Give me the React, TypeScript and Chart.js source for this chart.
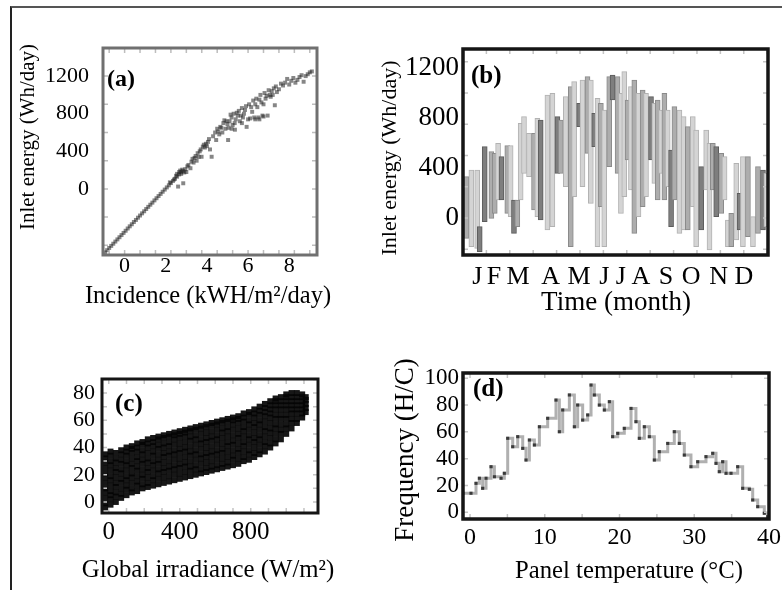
import React, { useEffect, useRef } from 'react';
import { Chart, registerables } from 'chart.js';

Chart.register(...registerables);

// ---------- (a) Inlet energy vs incidence ----------
const incidenceA = [
  -0.95, -0.85, -0.75, -0.65, -0.55, -0.45, -0.35, -0.25, -0.15, -0.05,
  0.05, 0.15, 0.25, 0.35, 0.45, 0.55, 0.65, 0.75, 0.85, 0.95,
  1.05, 1.15, 1.25, 1.35, 1.45, 1.55, 1.65, 1.75, 1.85, 1.95,
  2.05, 2.15, 2.25, 2.35, 2.45, 2.55, 2.65, 2.75,
  2.2, 2.4, 2.5, 2.55, 2.6, 2.65, 2.7, 2.75, 2.8, 2.85, 2.85, 2.9, 2.95, 3.0, 3.05, 3.1, 3.2, 3.25, 3.3, 3.35,
  3.4, 3.45, 3.5, 3.55, 3.6, 3.65, 3.7, 3.74, 3.8, 3.85, 3.9, 3.95, 4.0, 4.05, 4.1, 4.15, 4.23, 4.3, 4.4, 4.45,
  4.5, 5.03,
  4.6, 4.7, 4.8, 4.85, 4.9, 5.0, 5.1, 5.2, 5.25, 5.3, 5.36, 5.4, 5.5, 5.55, 5.6, 5.7, 5.75, 5.8, 5.9, 5.93,
  6.0, 6.05, 6.1, 6.2, 6.25, 6.3, 6.4, 6.45, 6.5, 6.6, 6.65, 6.7, 6.8, 6.85, 6.95, 7.0, 7.1, 7.2, 7.3, 7.35,
  7.5, 7.7, 7.9, 8.1, 8.3, 8.5, 8.7, 8.9, 9.1,
  4.55, 4.65, 4.75, 4.95, 5.05, 5.15, 5.35, 5.45, 5.65, 5.85, 6.15, 6.35, 6.55, 6.75, 6.9, 7.05,
  7.15, 7.25, 7.4, 7.6, 7.8, 8.0, 8.2, 8.4, 8.6, 8.8, 9.0, 6.35, 6.55, 6.75, 5.7, 5.2,
];
const energyA = [
  -675, -652, -628, -606, -583, -560, -537, -514, -491, -468,
  -445, -421, -398, -376, -352, -330, -306, -283, -260, -238,
  -214, -191, -168, -146, -122, -99, -76, -53, -30, -7,
  16, 38, 62, 85, 108, 130, 154, 177,
  70, 100, 140, 160, 25, 180, 195, 160, 205, 60, 190, 175, 210, 180, 240, 255, 220, 290, 320, 280,
  330, 350, 300, 380, 340, 400, 420, 342, 450, 470, 440, 480, 455, 500, 530, 420, 342, 560, 600, 520,
  640, 520,
  580, 650, 700, 730, 640, 690, 720, 760, 680, 800, 630, 740, 780, 830, 720, 860, 760, 800, 880, 660,
  740, 900, 750, 820, 940, 760, 960, 870, 760, 1000, 920, 780, 1020, 960, 780, 1050, 980, 1000, 890, 1090,
  1060, 1100, 1170, 1150, 1130, 1190, 1140, 1220, 1250,
  610, 660, 600, 720, 650, 790, 700, 810, 780, 840, 870, 900, 950, 900, 990, 1000,
  1040, 1070, 1030, 1120, 1130, 1110, 1180, 1160, 1210, 1200, 1240, 740, 740, 770, 700, 640,
];
const ticksAX = [0, 2, 4, 6, 8];
const ticksAY = [0, 400, 800, 1200];
const titleAX = 'Incidence (kWH/m²/day)';
const titleAY = 'Inlet energy (Wh/day)';

// ---------- (b) Inlet energy over the year (daily min/max bars) ----------
const dayB = [
  4, 10, 17, 20, 26, 34, 38, 42, 46, 53, 57, 61, 65, 69, 73, 79, 85, 89, 93, 101,
  107, 113, 117, 123, 129, 133, 139, 143, 149, 153, 157, 161, 165, 169, 175, 179, 185, 189, 193, 197,
  201, 205, 210, 215, 219, 225, 229, 233, 237, 241, 245, 249, 253, 259, 264, 269, 275, 279, 285, 291,
  295, 299, 303, 309, 313, 317, 321, 327, 331, 335, 341, 347, 353, 359, 363,
];
const lowB = [
  -163, -229, -243, -269, -29, -3, 37, 144, 144, 37, 11, -123, -69, 144, 357, 331, 64, 11, -16, -96,
  -69, 357, 357, 251, -229, 171, 731, 251, 517, 117, 571, -229, 91, -229, 411, 944, 357, 37, 171, 464,
  224, -123, 11, 91, 171, 464, 277, 144, 357, 144, 251, -69, 144, -123, -96, -96, 91, -229, -96, 224,
  -256, 224, 11, 37, 144, -229, -229, -176, -96, -229, -149, -229, -123, -96, -69,
];
const highB = [
  331, 384, 384, -69, 571, 531, 517, 597, 491, 579, 579, 144, 144, 757, 811, 677, 677, 797, 784, 984,
  997, 811, 784, 971, 1051, 1091, 917, 1104, 1131, 1104, 837, 957, 917, 864, 1131, 1144, 1131, 997, 1171, 944,
  1051, 1104, 997, 1024, 997, 971, 917, 944, 864, 997, 864, 544, 891, 864, 811, 731, 811, 704, 411, 704,
  597, 597, 571, 517, 491, -16, 37, 437, 197, 491, 491, 11, 411, 384, 357,
];
const monthTickDays = [17, 37, 66, 105, 139, 169, 189, 213, 243, 273, 306, 336];
const monthLabels = ['J', 'F', 'M', 'A', 'M', 'J', 'J', 'A', 'S', 'O', 'N', 'D'];
const ticksBY = [0, 400, 800, 1200];
const titleBX = 'Time (month)';
const titleBY = 'Inlet energy (Wh/day)';

// ---------- (c) Panel temperature vs global irradiance ----------
const irradianceColsC = [
  -20, 10, 40, 70, 100, 130, 160, 190, 220, 250, 280, 310, 340, 370, 400, 430, 460, 490, 520, 550,
  580, 610, 640, 670, 700, 730, 760, 790, 820, 850, 880, 910, 940, 970, 1000, 1030, 1060, 1090, 1110,
];
const temperatureColsC = [
  [-4, -1, 3, 7, 10, 14, 18, 21, 25, 29, 32, 35],
  [-2, 2, 5, 8, 12, 16, 19, 23, 27, 30, 34, 37],
  [0, 4, 7, 11, 14, 18, 22, 25, 29, 32, 36],
  [3, 6, 10, 14, 17, 21, 24, 28, 31, 35, 38],
  [5, 9, 12, 16, 19, 23, 27, 30, 34, 37, 40],
  [7, 10, 14, 18, 21, 25, 28, 32, 36, 39, 41],
  [8, 12, 15, 19, 23, 26, 30, 33, 37, 40, 43],
  [10, 13, 17, 20, 24, 28, 31, 35, 38, 42, 44],
  [11, 14, 18, 22, 25, 29, 32, 36, 40, 43, 46],
  [12, 16, 19, 23, 27, 30, 34, 37, 41, 44, 47],
  [13, 17, 21, 24, 28, 31, 35, 39, 42, 46, 48],
  [14, 18, 22, 25, 29, 33, 36, 40, 43, 47, 49],
  [15, 19, 23, 26, 30, 34, 37, 41, 44, 48, 50],
  [16, 20, 24, 27, 31, 35, 38, 42, 46, 49, 51],
  [17, 21, 25, 28, 32, 36, 39, 43, 47, 50, 52],
  [18, 22, 26, 29, 33, 37, 40, 44, 48, 51, 53],
  [19, 23, 26, 30, 34, 37, 41, 45, 48, 52, 54],
  [20, 24, 27, 31, 35, 38, 42, 46, 49, 53, 55],
  [21, 24, 28, 32, 35, 39, 43, 46, 50, 54, 56],
  [22, 25, 29, 33, 36, 40, 44, 47, 51, 55, 57],
  [23, 26, 30, 34, 37, 41, 45, 48, 52, 56, 58],
  [24, 27, 31, 35, 38, 42, 46, 49, 53, 57, 59],
  [25, 28, 32, 36, 39, 43, 47, 51, 54, 58, 60],
  [26, 29, 33, 37, 41, 44, 48, 52, 55, 59, 61],
  [27, 31, 34, 38, 42, 45, 49, 53, 57, 60, 62],
  [28, 32, 36, 39, 43, 47, 50, 54, 58, 61, 63],
  [30, 33, 37, 41, 44, 48, 52, 55, 59, 62, 65],
  [31, 35, 38, 42, 46, 49, 53, 57, 60, 64, 66],
  [33, 36, 40, 44, 47, 51, 55, 58, 62, 65, 68],
  [35, 38, 42, 46, 49, 53, 57, 60, 64, 67, 70],
  [37, 41, 44, 48, 52, 55, 59, 63, 66, 69, 72],
  [40, 43, 47, 51, 54, 58, 62, 65, 68, 71, 74],
  [43, 46, 50, 54, 57, 61, 64, 68, 71, 74, 76],
  [46, 50, 53, 57, 61, 64, 68, 71, 74, 77],
  [50, 54, 57, 61, 64, 68, 71, 74, 77, 79],
  [54, 58, 61, 65, 68, 71, 74, 77, 80],
  [58, 61, 65, 68, 71, 74, 77, 80],
  [62, 65, 68, 71, 74, 77, 79],
  [66, 69, 72, 75, 77],
];
const ticksCX = [0, 400, 800];
const ticksCY = [0, 20, 40, 60, 80];
const titleCX = 'Global irradiance (W/m²)';

// ---------- (d) Frequency vs panel temperature ----------
const temperatureD = [
  -0.98, 0.13, 0.8, 1.25, 1.69, 2.14, 2.81, 3.26, 4.15, 4.59, 5.04, 5.71, 6.38, 7.05, 7.49, 7.94,
  8.61, 9.28, 10.39, 11.5, 11.95, 12.4, 13.29, 13.96, 14.4, 15.07, 15.74, 16.19, 16.63, 17.3, 17.97,
  18.64, 19.08, 19.76, 20.64, 21.54, 22.2, 22.65, 23.32, 23.99, 24.66, 25.32, 26.45, 27.33, 28, 28.67,
  29.56, 30.46, 31.57, 32.47, 32.91, 33.35, 33.8, 34.25, 34.92, 35.81, 36.48, 37.37, 37.82, 38.49, 39.37, 39.82,
];
const frequencyD = [
  14.2, 14.2, 21.6, 25.4, 17.9, 25.4, 34, 26.5, 25.4, 29.1, 55.2, 48.9, 56.4, 47.7, 39, 53.9,
  50.2, 63.8, 70.1, 83.7, 60.1, 76.3, 87.5, 63.8, 80, 68.8, 72.6, 94.9, 87.5, 80, 76.3,
  82.5, 56.4, 58.9, 62.6, 77.5, 67.6, 55.2, 63.8, 56.4, 39, 45.2, 51.4, 60.1, 51.4, 42.7,
  34, 37.7, 41.5, 44, 36.5, 30.3, 37.7, 29.1, 29.1, 34, 17.9, 17.2, 9.2, 4.2, -0.7, -3.3,
];
const ticksDX = [0, 10, 20, 30, 40];
const ticksDY = [0, 20, 40, 60, 80, 100];
const titleDX = 'Panel temperature (°C)';
const titleDY = 'Frequency (H/C)';

// ---------- styling ----------
const SERIF = '"Liberation Serif", "Times New Roman", Times, serif';
const BAR_TONES = [1, 0, 0, 2, 2, 1, 1, 0, 2, 1, 0, 2, 1, 0, 0, 0, 1, 0, 2, 0,
  0, 2, 1, 0, 1, 0, 2, 0, 1, 0, 2, 0, 1, 0, 1, 2, 1, 0, 0, 1,
  0, 1, 0, 1, 0, 2, 0, 1, 0, 1, 0, 2, 1, 0, 0, 1, 0, 0, 2, 0,
  0, 1, 2, 1, 0, 0, 1, 0, 2, 0, 1, 0, 1, 2, 0];
const TONE_FILL = ['#d4d4d4', '#adadad', '#7e7e7e'];
const TONE_EDGE = ['#b2b2b2', '#8a8a8a', '#5c5c5c'];

type AxisSpec = {
  min: number; max: number; ticks: number[]; labels?: string[];
  tickSize: number; tickPad: number; size: number;
};

function axis(kind: 'x' | 'y', p: AxisSpec) {
  return {
    type: 'linear', position: kind === 'x' ? 'bottom' : 'left', min: p.min, max: p.max, offset: false,
    grid: { display: false, drawTicks: false }, border: { display: false },
    afterBuildTicks: (s: any) => { s.ticks = p.ticks.map((v) => ({ value: v })); },
    afterFit: (s: any) => { if (kind === 'x') s.height = p.size; else s.width = p.size; },
    ticks: {
      autoSkip: false, maxRotation: 0, minRotation: 0, padding: p.tickPad, color: '#000',
      font: { family: SERIF, size: p.tickSize, lineHeight: 1 },
      callback: (v: any, i: number) => (p.labels ? p.labels[i] : String(v)),
    },
    title: { display: false },
  };
}

const panelDecor = {
  id: 'panelDecor',
  afterDatasetsDraw(chart: any, _args: any, o: any) {
    const { ctx, chartArea: a, scales } = chart;
    ctx.save();
    // small inner tick marks
    ctx.strokeStyle = o.tickColor;
    ctx.lineWidth = 1.5;
    const sx = scales.x, sy = scales.y;
    ctx.beginPath();
    for (let v = Math.ceil(sx.min / o.xStep) * o.xStep; v <= sx.max; v += o.xStep) {
      const px = sx.getPixelForValue(v);
      ctx.moveTo(px, a.top); ctx.lineTo(px, a.top + 5);
      ctx.moveTo(px, a.bottom); ctx.lineTo(px, a.bottom - 5);
    }
    for (let v = Math.ceil(sy.min / o.yStep) * o.yStep; v <= sy.max; v += o.yStep) {
      const py = sy.getPixelForValue(v);
      ctx.moveTo(a.left, py); ctx.lineTo(a.left + 5, py);
      ctx.moveTo(a.right, py); ctx.lineTo(a.right - 5, py);
    }
    ctx.stroke();
    // frame
    ctx.strokeStyle = o.frameColor;
    ctx.lineWidth = o.frameWidth;
    ctx.strokeRect(a.left, a.top, a.right - a.left, a.bottom - a.top);
    // panel letter
    ctx.fillStyle = '#000';
    ctx.font = `bold ${o.letterSize}px ${SERIF}`;
    ctx.textBaseline = 'middle';
    ctx.textAlign = 'left';
    ctx.fillText(o.letter, a.left + o.letterDx, a.top + o.letterDy);
    // axis titles
    ctx.textAlign = 'center';
    for (const t of o.titles) {
      ctx.font = `${t.size}px ${SERIF}`;
      if (t.axis === 'x') {
        ctx.fillText(t.text, (a.left + a.right) / 2 + t.dx, a.bottom + t.dy);
      } else {
        ctx.save();
        ctx.translate(a.left + t.dx, (a.top + a.bottom) / 2 + t.dy);
        ctx.rotate(-Math.PI / 2);
        ctx.fillText(t.text, 0, 0);
        ctx.restore();
      }
    }
    ctx.restore();
  },
};

function baseOptions(padding: any, decor: any, x: any, y: any) {
  return {
    responsive: false,
    animation: false,
    events: [],
    layout: { padding },
    plugins: { legend: { display: false }, tooltip: { enabled: false }, panelDecor: decor },
    scales: { x, y },
  };
}

function configA() {
  return {
    type: 'scatter',
    data: {
      datasets: [{
        data: incidenceA.map((v, i) => ({ x: v, y: energyA[i] })),
        pointStyle: 'rect', pointRadius: 2.8, pointBorderWidth: 0,
        backgroundColor: 'rgba(35,35,35,0.55)',
      }],
    },
    options: baseOptions(
      { left: 0, top: 48, right: 74, bottom: 0 },
      {
        letter: '(a)', letterSize: 24, letterDx: 4, letterDy: 32, frameColor: '#707070', frameWidth: 3, tickColor: '#bdbdbd', xStep: 0.75, yStep: 300,
        titles: [
          { axis: 'x', text: titleAX, size: 24.5, dx: -2, dy: 42 },
          { axis: 'y', text: titleAY, size: 21, dx: -75, dy: -14.5 },
        ],
      },
      axis('x', { min: -1.05, max: 9.35, ticks: ticksAX, tickSize: 22, tickPad: 0, size: 75 }),
      axis('y', { min: -703, max: 1499, ticks: ticksAY, tickSize: 22, tickPad: 14, size: 103 }),
    ),
    plugins: [panelDecor],
  };
}

function configB() {
  return {
    type: 'bar',
    data: {
      datasets: [{
        data: dayB.map((d, i) => ({ x: d, y: [lowB[i], highB[i]] })),
        backgroundColor: BAR_TONES.map((t) => TONE_FILL[t]),
        borderColor: BAR_TONES.map((t) => TONE_EDGE[t]),
        borderWidth: 1, borderSkipped: false, barThickness: 5,
      }],
    },
    options: baseOptions(
      { left: 0, top: 49, right: 14, bottom: 0 },
      {
        letter: '(b)', letterSize: 25, letterDx: 8, letterDy: 28, frameColor: '#151515', frameWidth: 3.5, tickColor: '#c4c4c4', xStep: 28, yStep: 250,
        titles: [
          { axis: 'x', text: titleBX, size: 27, dx: 0.5, dy: 48 },
          { axis: 'y', text: titleBY, size: 22, dx: -73, dy: 6 },
        ],
      },
      axis('x', { min: 0, max: 365, ticks: monthTickDays, labels: monthLabels, tickSize: 26, tickPad: 9, size: 75 }),
      axis('y', { min: -296, max: 1352, ticks: ticksBY, tickSize: 27, tickPad: 4, size: 103 }),
    ),
    plugins: [panelDecor],
  };
}

function configC() {
  const pts: { x: number; y: number }[] = [];
  irradianceColsC.forEach((x, i) => temperatureColsC[i].forEach((y) => pts.push({ x, y })));
  return {
    type: 'scatter',
    data: {
      datasets: [{
        data: pts,
        pointStyle: 'rect', pointRadius: 4.2, pointBorderWidth: 0,
        backgroundColor: 'rgba(5,5,5,0.93)',
      }],
    },
    options: baseOptions(
      { left: 0, top: 49, right: 73, bottom: 0 },
      {
        letter: '(c)', letterSize: 25, letterDx: 13, letterDy: 26, frameColor: '#151515', frameWidth: 3, tickColor: '#c4c4c4', xStep: 100, yStep: 10,
        titles: [{ axis: 'x', text: titleCX, size: 24.8, dx: -2, dy: 57 }],
      },
      axis('x', { min: -38, max: 1179, ticks: ticksCX, tickSize: 25, tickPad: 6.5, size: 77 }),
      axis('y', { min: -8.1, max: 90.3, ticks: ticksCY, tickSize: 22, tickPad: 7, size: 102 }),
    ),
    plugins: [panelDecor],
  };
}

function configD() {
  return {
    type: 'line',
    data: {
      datasets: [{
        data: temperatureD.map((t, i) => ({ x: t, y: frequencyD[i] })),
        stepped: true,
        borderColor: '#b0b0b0', borderWidth: 3,
        pointStyle: 'rect', pointRadius: 2.2, pointBorderWidth: 0,
        pointBackgroundColor: '#3a3a3a',
        fill: false,
      }],
    },
    options: baseOptions(
      { left: 0, top: 43, right: 21, bottom: 0 },
      {
        letter: '(d)', letterSize: 25, letterDx: 10, letterDy: 17, frameColor: '#151515', frameWidth: 3.5, tickColor: '#c4c4c4', xStep: 5, yStep: 20,
        titles: [
          { axis: 'x', text: titleDX, size: 24.7, dx: 13, dy: 53 },
          { axis: 'y', text: titleDY, size: 27, dx: -57, dy: 4 },
        ],
      },
      axis('x', { min: -0.94, max: 40, ticks: ticksDX, tickSize: 24, tickPad: 7, size: 71 }),
      axis('y', { min: -5, max: 103.9, ticks: ticksDY, tickSize: 23, tickPad: 4, size: 103 }),
    ),
    plugins: [panelDecor],
  };
}

function Panel({ left, top, width, height, make }: { left: number; top: number; width: number; height: number; make: () => any }) {
  const ref = useRef<HTMLCanvasElement>(null);
  useEffect(() => {
    const chart = new Chart(ref.current as HTMLCanvasElement, make());
    return () => chart.destroy();
  }, []);
  return (
    <canvas
      ref={ref}
      width={width}
      height={height}
      style={{ position: 'absolute', left, top, width, height, display: 'block' }}
    />
  );
}

export default function App() {
  return (
    <div style={{ position: 'fixed', left: 0, top: 0, width: 782, height: 590, overflow: 'hidden', background: '#fff' }}>
      <div style={{ position: 'absolute', left: 10, top: 6, right: 0, bottom: 0, borderTop: '2px solid #555', borderLeft: '2px solid #222' }} />
      <Panel left={0} top={0} width={391} height={330} make={configA} />
      <Panel left={360} top={0} width={422} height={330} make={configB} />
      <Panel left={0} top={330} width={391} height={260} make={configC} />
      <Panel left={360} top={330} width={430} height={260} make={configD} />
    </div>
  );
}
